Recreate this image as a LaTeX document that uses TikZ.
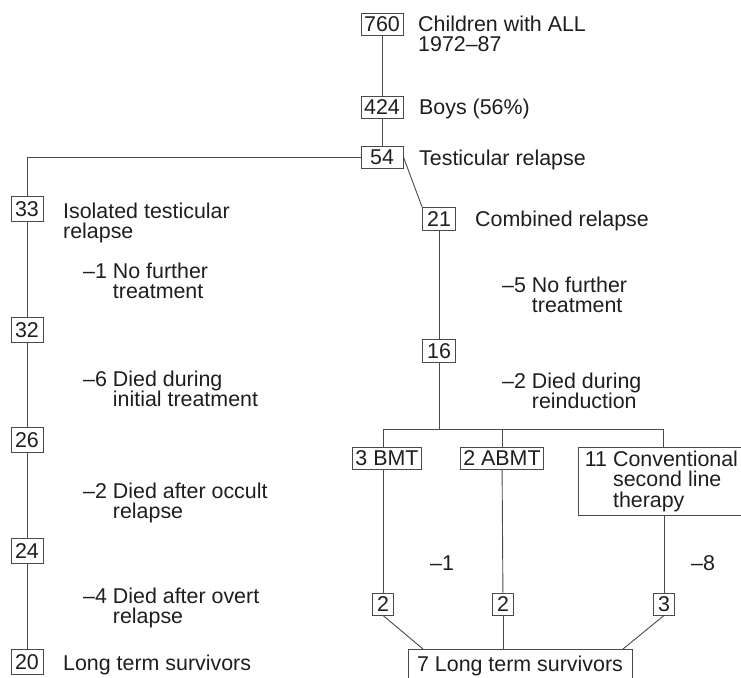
\documentclass[tikz,border=0pt]{standalone}
\usepackage{fontspec}
\setmainfont{Liberation Sans}
\definecolor{lc}{HTML}{4A4A4A}
\definecolor{tc}{HTML}{1E1E1E}
\tikzset{
  link/.style={draw=lc, line width=0.9pt},
  bx/.style={draw=lc, line width=0.9pt, inner xsep=3pt, inner ysep=0pt, minimum height=22},
  tbox/.style={bx, minimum width=42},
  lbox/.style={bx, minimum width=32, minimum height=25},
  rbox/.style={bx, minimum width=33, minimum height=23},
  sbox/.style={bx, minimum width=21},
  lbl/.style={anchor=west, align=left, inner sep=0pt}
}
\begin{document}
\begin{tikzpicture}[x=1pt,y=-1pt,
  every node/.style={font=\fontsize{21.4}{20.5}\selectfont, text=tc}]
\useasboundingbox (0,0) rectangle (741,677);

% main column
\node[tbox] (a) at (382,24) {760};
\node[lbl] (ta) at (418,34) {Children with ALL\\1972--87};
\node[tbox] (b) at (382,107) {424};
\node[lbl] (tb) at (419,109) {Boys (56\%)};
\node[tbox] (c) at (382,157) {54};
\node[lbl] (tc) at (419,160) {Testicular relapse};
\draw[link] (a) -- (b) -- (c);

% isolated testicular relapse
\node[lbox] (l1) at (27,209) {33};
\node[lbox] (l2) at (27,330) {32};
\node[lbox] (l3) at (27,440) {26};
\node[lbox] (l4) at (27,551) {24};
\node[lbox] (l5) at (27,662) {20};
\foreach \i/\j in {1/2,2/3,3/4,4/5}
     \draw[link] (l\i) -- (l\j);
\draw[link] (c) -| (l1);
\node[lbl] (td) at (63,223) {Isolated testicular\\relapse};
\node[lbl] (m1) at (83,281) {--1 No further\\\hphantom{--1 }treatment};
\node[lbl] (m2) at (83,389) {--6 Died during\\\hphantom{--6 }initial treatment};
\node[lbl] (m3) at (83,503) {--2 Died after occult\\\hphantom{--2 }relapse};
\node[lbl] (m4) at (83,608) {--4 Died after overt\\\hphantom{--4 }relapse};
\node[lbl] (tf) at (63,665) {Long term survivors};

% combined relapse
\node[rbox] (r1) at (439,219) {21};
\node[lbl] (te) at (475,221) {Combined relapse};
\node[rbox] (r2) at (439,351) {16};
\draw[link] (c.east) -- (r1.north west);
\draw[link] (r1) -- (r2);
\node[lbl] (m5) at (502,295) {--5 No further\\\hphantom{--5 }treatment};
\node[lbl] (m6) at (502,391) {--2 Died during\\\hphantom{--2 }reinduction};

\coordinate (j) at (439,429);
\coordinate (j1) at (383,429);
\coordinate (j3) at (663,429);
\node[bx] (bmt) at (387,458) {3 BMT};
\node[bx] (abmt) at (502,458) {2 ABMT};
\node[bx, anchor=north west, align=left, minimum width=166, minimum height=68]
     (conv) at (578,447) {11 Conventional\\\hphantom{11 }second line\\\hphantom{11 }therapy};
\draw[link] (r2) -- (j);
\draw[link] (j1 |- bmt.north) -- (j1) -- (j3) -- (j3 |- conv.north);
\draw[link] (abmt) -- (abmt |- j1);

\node[sbox] (s1) at (383,604) {2};
\node[sbox] (s2) at (503,604) {2};
\node[sbox] (s3) at (664,604) {3};
\draw[link] (s1 |- bmt.south) -- (s1);
\draw[link] (abmt) -- (s2);
\draw[link] (s3 |- conv.south) -- (s3);
\node (m7) at (442,563) {--1};
\node (m8) at (703,563) {--8};

\node[bx, anchor=north, minimum width=224, minimum height=40] (lt) at (520,649) {};
\node (ltx) at (520,666) {7 Long term survivors};
\coordinate (e1) at (423,649);
\coordinate (e3) at (623,649);
\draw[link] (s1.south) -- (e1);
\draw[link] (s2) -- (s2 |- lt.north);
\draw[link] (s3.south) -- (e3);

\end{tikzpicture}
\end{document}
